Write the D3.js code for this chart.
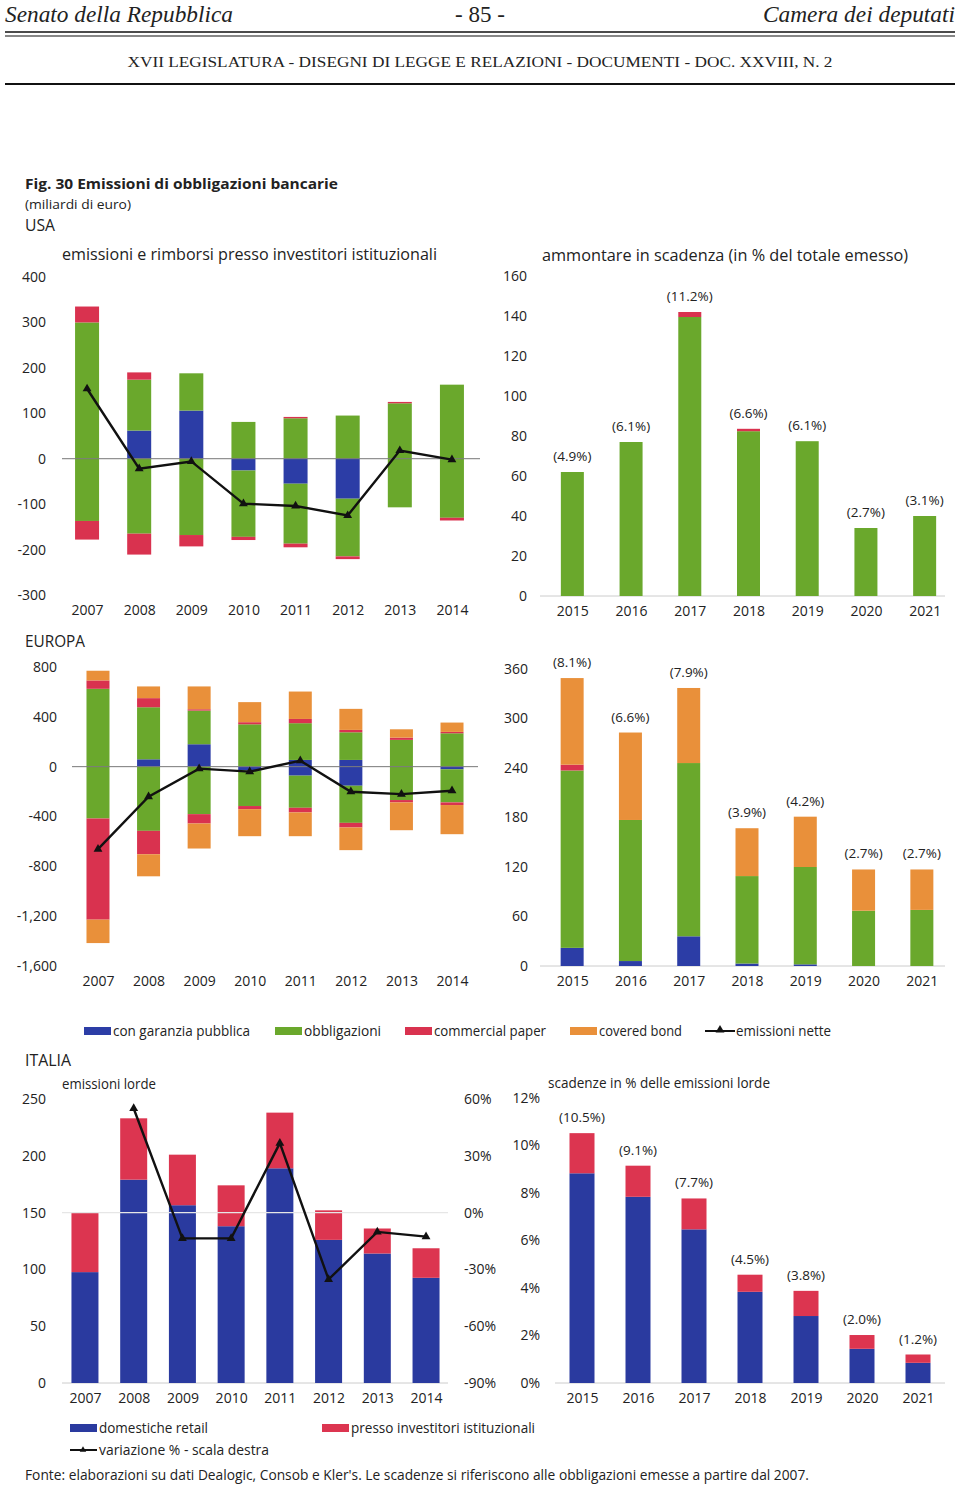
<!DOCTYPE html>
<html><head><meta charset="utf-8">
<script src="https://cdn.jsdelivr.net/npm/d3@7"></script>
<style>
html,body{margin:0;padding:0;background:#fff;}
svg{display:block;}
text{font-family:"Open Sans",sans-serif;fill:#222;}
</style></head>
<body>
<svg id="chart" width="960" height="1493"></svg>
<script>
// ---------------- DATA ----------------
const yearsHist = ["2007","2008","2009","2010","2011","2012","2013","2014"];
const yearsMat = ["2015","2016","2017","2018","2019","2020","2021"];

// USA – emissions (+) and redemptions (-), by instrument
const usaPosBlue   = [0, 62, 106, 0, 0, 0, 0, 0];
const usaPosGreen  = [300, 112, 82, 81, 89, 95, 122, 163];
const usaPosRed    = [35, 16, 0, 0, 3, 0, 3, 0];
const usaNegBlue   = [0, 0, 0, -26, -55, -88, 0, 0];
const usaNegGreen  = [-137, -165, -168, -146, -132, -127, -107, -130];
const usaNegRed    = [-41, -46, -25, -7, -8, -6, 0, -6];
const usaNet       = [154, -22, -6, -99, -104, -125, 18, -2];

// USA – maturities
const usaMatGreen  = [62, 77, 139.5, 82.4, 77.4, 34, 40];
const usaMatRed    = [0, 0, 2.5, 1.2, 0, 0, 0];
const usaMatLabels = ["(4.9%)","(6.1%)","(11.2%)","(6.6%)","(6.1%)","(2.7%)","(3.1%)"];

// EUROPA – emissions (+) and redemptions (-)
const euPosBlue    = [0, 59, 180, 0, 54, 54, 0, 0];
const euPosGreen   = [625, 418, 270, 340, 295, 222, 215, 268];
const euPosRed     = [67, 73, 11, 17, 34, 19, 18, 11];
const euPosOrange  = [78, 94, 183, 161, 220, 169, 67, 75];
const euNegBlue    = [0, 0, 0, -30, -72, -153, 0, -21];
const euNegGreen   = [-416, -515, -381, -286, -258, -298, -268, -266];
const euNegRed     = [-812, -188, -75, -25, -37, -37, -19, -21];
const euNegOrange  = [-188, -177, -201, -217, -191, -182, -223, -234];
const euNet        = [-662, -241, -16, -40, 48, -201, -220, -193];

// EUROPA – maturities
const euMatBlue    = [22, 6, 36, 3, 2, 0, 0];
const euMatGreen   = [215, 171, 210, 106, 118, 67, 68];
const euMatRed     = [7, 0, 0, 0, 0, 0, 0];
const euMatOrange  = [105, 106, 91, 58, 61, 50, 49];
const euMatLabels  = ["(8.1%)","(6.6%)","(7.9%)","(3.9%)","(4.2%)","(2.7%)","(2.7%)"];

// ITALIA – gross issuance
const itRetail     = [97.6, 179, 156.5, 138, 189, 126, 114, 92.6];
const itInst       = [52.4, 54, 44.5, 36, 49, 26, 22, 26];
const itVar        = [null, 55, -13.6, -13.6, 36.7, -35.3, -10.2, -12.7];

// ITALIA – maturities in % of gross issuance
const itMatRetail  = [8.83, 7.84, 6.47, 3.84, 2.82, 1.44, 0.85];
const itMatInst    = [1.69, 1.31, 1.30, 0.72, 1.06, 0.58, 0.35];
const itMatLabels  = ["(10.5%)","(9.1%)","(7.7%)","(4.5%)","(3.8%)","(2.0%)","(1.2%)"];

// Tick values
const usaLeftTicks  = [400,300,200,100,0,-100,-200,-300];
const usaRightTicks = [160,140,120,100,80,60,40,20,0];
const euLeftTicks   = [800,400,0,-400,-800,-1200,-1600];
const euRightTicks  = [360,300,240,180,120,60,0];
const itLeftTicks   = [250,200,150,100,50,0];
const itVarTicks    = [60,30,0,-30,-60,-90];
const itRightTicks  = [12,10,8,6,4,2,0];

// ---------------- STYLE ----------------
const C = {blue:"#2c3da6", green:"#6aa82c", red:"#d9324f", orange:"#e9903a",
           itBlue:"#2a3a9f", itRed:"#dc3550", axis:"#999"};

const svg = d3.select("#chart");
const fmtComma = d => d3.format(",")(d).replace("\u2212","-");

// ---------------- HEADER ----------------
svg.append("text").attr("x",5).attr("y",22).attr("textLength",228).attr("lengthAdjust","spacingAndGlyphs")
  .style("font-family","'Liberation Serif',serif").style("font-style","italic").style("font-size","23px").text("Senato della Repubblica");
svg.append("text").attr("x",480).attr("y",22).attr("text-anchor","middle")
  .style("font-family","'Liberation Serif',serif").style("font-size","23px").text("- 85 -");
svg.append("text").attr("x",955).attr("y",22).attr("text-anchor","end").attr("textLength",192).attr("lengthAdjust","spacingAndGlyphs")
  .style("font-family","'Liberation Serif',serif").style("font-style","italic").style("font-size","23px").text("Camera dei deputati");
svg.append("line").attr("x1",5).attr("x2",955).attr("y1",32).attr("y2",32).attr("stroke","#111").attr("stroke-width",1.6);
svg.append("line").attr("x1",5).attr("x2",955).attr("y1",36).attr("y2",36).attr("stroke","#111").attr("stroke-width",1.2);
svg.append("text").attr("x",480).attr("y",67).attr("text-anchor","middle").attr("textLength",705).attr("lengthAdjust","spacingAndGlyphs")
  .style("font-family","'Liberation Serif',serif").style("font-size","15px")
  .text("XVII LEGISLATURA - DISEGNI DI LEGGE E RELAZIONI - DOCUMENTI - DOC. XXVIII, N. 2");
svg.append("line").attr("x1",5).attr("x2",955).attr("y1",84).attr("y2",84).attr("stroke","#111").attr("stroke-width",2);

// ---------------- HELPERS ----------------
function txt(x,y,s,opt={}){
  const t = svg.append("text").attr("x",x).attr("y",y).text(s)
    .style("font-size",(opt.size||14)+"px");
  if(opt.anchor) t.attr("text-anchor",opt.anchor);
  if(opt.weight) t.style("font-weight",opt.weight);
  if(opt.len) t.attr("textLength",opt.len).attr("lengthAdjust","spacingAndGlyphs");
  if(opt.fill) t.style("fill",opt.fill);
  return t;
}

function yAxisLabels(y, ticks, xRight, fmt, anchor){
  const g = svg.append("g").attr("transform",`translate(${xRight},0)`);
  const ax = (anchor==="start"? d3.axisRight(y): d3.axisLeft(y)).tickValues(ticks).tickFormat(fmt).tickSize(0).tickPadding(0);
  g.call(ax);
  g.select(".domain").remove();
  g.selectAll("text").style("font-size","14px").style("font-family","'Open Sans',sans-serif").attr("fill","#222");
  return g;
}
function xAxisLabels(x, yPos){
  const g = svg.append("g").attr("transform",`translate(0,${yPos})`);
  g.call(d3.axisBottom(x).tickSize(0).tickPadding(0));
  g.select(".domain").remove();
  g.selectAll("text").style("font-size","14px").style("font-family","'Open Sans',sans-serif").attr("fill","#222").attr("dy","0.35em");
  return g;
}

function stacked(x, y, cats, layers, bw){
  // layers: array of {vals, color}, stacked outward from 0 in order (positive up, negative down)
  const g = svg.append("g");
  cats.forEach((c,i)=>{
    let pos=0, neg=0;
    layers.forEach(L=>{
      const v = L.vals[i];
      if(!v) return;
      let y0,y1;
      if(v>0){ y0=pos; y1=pos+v; pos=y1; } else { y0=neg; y1=neg+v; neg=y1; }
      g.append("rect").attr("x",x(c)-bw/2).attr("width",bw)
        .attr("y",y(Math.max(y0,y1))).attr("height",Math.abs(y(y0)-y(y1)))
        .attr("fill",L.color);
    });
  });
  return g;
}

function netLine(x, y, cats, vals){
  const pts = cats.map((c,i)=>[c,vals[i]]).filter(d=>d[1]!==null);
  svg.append("path").datum(pts)
    .attr("d", d3.line().x(d=>x(d[0])).y(d=>y(d[1])))
    .attr("fill","none").attr("stroke","#111").attr("stroke-width",2.4);
  svg.append("g").selectAll("path").data(pts).join("path")
    .attr("transform",d=>`translate(${x(d[0])},${y(d[1])})`)
    .attr("d", d3.symbol().type(d3.symbolTriangle).size(34)).attr("fill","#111");
}

// ---------------- TITLES ----------------
txt(25,189,"Fig. 30 Emissioni di obbligazioni bancarie",{size:15,weight:"bold",len:313});
txt(25,209,"(miliardi di euro)",{size:13,len:106});
txt(25,231,"USA",{size:16,len:30});

// ---------------- USA LEFT ----------------
{
  const x = d3.scalePoint().domain(yearsHist).range([61,478]).padding(0.5);
  const y = d3.scaleLinear().domain([-300,400]).range([595,277]);
  txt(62,260,"emissioni e rimborsi presso investitori istituzionali",{size:16,len:375});
  yAxisLabels(y, usaLeftTicks, 46, d=>d, "end");
  stacked(x,y,yearsHist,[
    {vals:usaPosBlue,color:C.blue},{vals:usaPosGreen,color:C.green},{vals:usaPosRed,color:C.red},
    {vals:usaNegBlue,color:C.blue},{vals:usaNegGreen,color:C.green},{vals:usaNegRed,color:C.red}],24);
  svg.append("line").attr("x1",62).attr("x2",480).attr("y1",y(0)).attr("y2",y(0)).attr("stroke","#777").attr("stroke-width",1);
  netLine(x,y,yearsHist,usaNet);
  xAxisLabels(x,610);
}

// ---------------- USA RIGHT ----------------
{
  const x = d3.scalePoint().domain(yearsMat).range([543,954]).padding(0.5);
  const y = d3.scaleLinear().domain([0,160]).range([596,276]);
  txt(542,261,"ammontare in scadenza (in % del totale emesso)",{size:16,len:366});
  yAxisLabels(y, usaRightTicks, 527, d=>d, "end");
  svg.append("line").attr("x1",540).attr("x2",945).attr("y1",y(0)).attr("y2",y(0)).attr("stroke","#ccc");
  stacked(x,y,yearsMat,[{vals:usaMatGreen,color:C.green},{vals:usaMatRed,color:C.red}],23);
  yearsMat.forEach((c,i)=>{
    txt(x(c), y(usaMatGreen[i]+usaMatRed[i])-11, usaMatLabels[i],{size:13.5,anchor:"middle"});
  });
  xAxisLabels(x,611);
}

// ---------------- EUROPA LEFT ----------------
txt(25,647,"EUROPA",{size:16,len:60});
{
  const x = d3.scalePoint().domain(yearsHist).range([72.7,477.3]).padding(0.5);
  const y = d3.scaleLinear().domain([-1600,800]).range([966,667]);
  yAxisLabels(y, euLeftTicks, 57, fmtComma, "end");
  stacked(x,y,yearsHist,[
    {vals:euPosBlue,color:C.blue},{vals:euPosGreen,color:C.green},{vals:euPosRed,color:C.red},{vals:euPosOrange,color:C.orange},
    {vals:euNegBlue,color:C.blue},{vals:euNegGreen,color:C.green},{vals:euNegRed,color:C.red},{vals:euNegOrange,color:C.orange}],23);
  svg.append("line").attr("x1",72).attr("x2",478).attr("y1",y(0)).attr("y2",y(0)).attr("stroke","#777").attr("stroke-width",1);
  netLine(x,y,yearsHist,euNet);
  xAxisLabels(x,981);
}

// ---------------- EUROPA RIGHT ----------------
{
  const x = d3.scalePoint().domain(yearsMat).range([543,951]).padding(0.5);
  const y = d3.scaleLinear().domain([0,360]).range([966,669]);
  yAxisLabels(y, euRightTicks, 528, d=>d, "end");
  svg.append("line").attr("x1",540).attr("x2",945).attr("y1",y(0)).attr("y2",y(0)).attr("stroke","#ccc");
  stacked(x,y,yearsMat,[{vals:euMatBlue,color:C.blue},{vals:euMatGreen,color:C.green},{vals:euMatRed,color:C.red},{vals:euMatOrange,color:C.orange}],23);
  yearsMat.forEach((c,i)=>{
    const tot = euMatBlue[i]+euMatGreen[i]+euMatRed[i]+euMatOrange[i];
    txt(x(c), y(tot)-11, euMatLabels[i],{size:13.5,anchor:"middle"});
  });
  xAxisLabels(x,981);
}

// ---------------- LEGEND (USA/EUROPA) ----------------
{
  const items = [
    {label:"con garanzia pubblica", color:C.blue, x:84, len:137},
    {label:"obbligazioni", color:C.green, x:275, len:77},
    {label:"commercial paper", color:C.red, x:405, len:112},
    {label:"covered bond", color:C.orange, x:570, len:83}];
  items.forEach(it=>{
    svg.append("rect").attr("x",it.x).attr("y",1027).attr("width",27).attr("height",8).attr("fill",it.color);
    txt(it.x+29,1036,it.label,{size:14,len:it.len});
  });
  svg.append("line").attr("x1",705).attr("x2",735).attr("y1",1031).attr("y2",1031).attr("stroke","#111").attr("stroke-width",2);
  svg.append("path").attr("transform","translate(720,1030)").attr("d",d3.symbol().type(d3.symbolTriangle).size(34)).attr("fill","#111");
  txt(736,1036,"emissioni nette",{size:14,len:95});
}

// ---------------- ITALIA LEFT ----------------
txt(25,1066,"ITALIA",{size:16,len:46});
{
  const x = d3.scalePoint().domain(yearsHist).range([60.6,450.4]).padding(0.5);
  const y = d3.scaleLinear().domain([0,250]).range([1383,1099]);
  const y2 = d3.scaleLinear().domain([-90,60]).range([1383,1099]);
  txt(62,1089,"emissioni lorde",{size:14,len:94});
  yAxisLabels(y, itLeftTicks, 46, d=>d, "end");
  yAxisLabels(y2, itVarTicks, 464, d=>d+"%", "start");
  svg.append("line").attr("x1",62).attr("x2",448).attr("y1",y(0)).attr("y2",y(0)).attr("stroke","#ccc");
  stacked(x,y,yearsHist,[{vals:itRetail,color:C.itBlue},{vals:itInst,color:C.itRed}],27);
  svg.append("line").attr("x1",62).attr("x2",448).attr("y1",y2(0)).attr("y2",y2(0)).attr("stroke","#e6e6e6").attr("stroke-width",1.2);
  netLine(x,y2,yearsHist,itVar);
  xAxisLabels(x,1398);
}

// ---------------- ITALIA RIGHT ----------------
{
  const x = d3.scalePoint().domain(yearsMat).range([554,946]).padding(0.5);
  const y = d3.scaleLinear().domain([0,12]).range([1383,1098]);
  txt(548,1088,"scadenze in % delle emissioni lorde",{size:14,len:222});
  yAxisLabels(y, itRightTicks, 540, d=>d+"%", "end");
  svg.append("line").attr("x1",555).attr("x2",945).attr("y1",y(0)).attr("y2",y(0)).attr("stroke","#ccc");
  stacked(x,y,yearsMat,[{vals:itMatRetail,color:C.itBlue},{vals:itMatInst,color:C.itRed}],25);
  yearsMat.forEach((c,i)=>{
    txt(x(c), y(itMatRetail[i]+itMatInst[i])-11, itMatLabels[i],{size:13.5,anchor:"middle"});
  });
  xAxisLabels(x,1398);
}

// ---------------- ITALIA LEGEND ----------------
svg.append("rect").attr("x",70).attr("y",1424).attr("width",27).attr("height",8).attr("fill",C.itBlue);
txt(99,1433,"domestiche retail",{size:14,len:109});
svg.append("rect").attr("x",322).attr("y",1424).attr("width",27).attr("height",8).attr("fill",C.itRed);
txt(351,1433,"presso investitori istituzionali",{size:14,len:184});
svg.append("line").attr("x1",70).attr("x2",97).attr("y1",1450).attr("y2",1450).attr("stroke","#111").attr("stroke-width",2);
svg.append("path").attr("transform","translate(83,1450)").attr("d",d3.symbol().type(d3.symbolTriangle).size(18)).attr("fill","#111");
txt(99,1455,"variazione % - scala destra",{size:14,len:170});

// ---------------- SOURCE ----------------
txt(25,1480,"Fonte: elaborazioni su dati Dealogic, Consob e Kler's. Le scadenze si riferiscono alle obbligazioni emesse a partire dal 2007.",{size:14,len:784});
</script>
</body></html>
